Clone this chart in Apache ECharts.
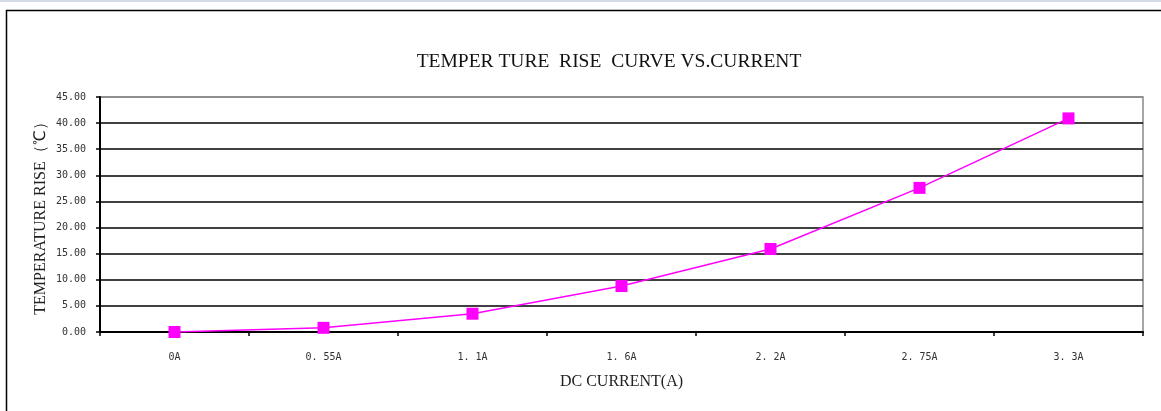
<!DOCTYPE html>
<html>
<head>
<meta charset="utf-8">
<script src="https://cdn.jsdelivr.net/npm/echarts@6/dist/echarts.min.js"></script>
<style>
  body { margin: 0; background: #fff; }
  #main { width: 1161px; height: 411px; }
</style>
</head>
<body>
<div id="main"></div>
<script>
// data
var categories = ['0A', '0.55A', '1.1A', '1.6A', '2.2A', '2.75A', '3.3A'];
var tempRise = [0, 0.8, 3.5, 8.8, 15.9, 27.6, 40.9];
var yMin = 0, yMax = 45, yStep = 5;

var chart = echarts.init(document.getElementById('main'));

// grid lines black, the top one grey like the frame
var splitColors = [];
for (var i = 0; i <= (yMax - yMin) / yStep; i++) splitColors.push('#000');
splitColors[splitColors.length - 1] = '#888';

chart.setOption({
  animation: false,
  backgroundColor: '#fff',
  title: {
    text: 'TEMPER TURE  RISE  CURVE VS.CURRENT',
    left: 604,
    top: 47,
    textAlign: 'center',
    textStyle: {
      fontFamily: 'Liberation Serif',
      fontWeight: 'normal',
      fontSize: 19.5,
      color: '#111'
    }
  },
  graphic: [
    { type: 'rect', shape: { x: 0, y: 0, width: 1161, height: 2 }, style: { fill: '#d4dcea' } },
    { type: 'rect', shape: { x: 6.5, y: 10.5, width: 1165, height: 410 }, style: { fill: 'none', stroke: '#000', lineWidth: 1.5 } }
  ],
  grid: {
    left: 100, top: 97, right: 18, bottom: 79,
    show: true,
    borderColor: '#888',
    borderWidth: 1.5
  },
  xAxis: {
    type: 'category',
    data: categories,
    boundaryGap: true,
    name: 'DC CURRENT(A)',
    nameLocation: 'middle',
    nameGap: 42,
    nameTextStyle: {
      fontFamily: 'Liberation Serif',
      fontSize: 16,
      color: '#222'
    },
    axisLine: { lineStyle: { color: '#000', width: 2 } },
    axisTick: { show: true, inside: false, length: 4, lineStyle: { color: '#000', width: 1.5 } },
    axisLabel: {
      margin: 20,
      fontFamily: 'DejaVu Sans Mono',
      fontSize: 10,
      color: '#333',
      formatter: function (v) { return v.replace('.', '. '); }
    }
  },
  yAxis: {
    type: 'value',
    min: yMin,
    max: yMax,
    interval: yStep,
    name: 'TEMPERATURE RISE（℃）',
    nameLocation: 'middle',
    nameGap: 51,
    nameRotate: 90,
    nameMoveOverlap: false,
    nameTextStyle: {
      fontFamily: 'Liberation Serif',
      fontSize: 16,
      color: '#222'
    },
    axisLine: { show: true, lineStyle: { color: '#000', width: 2 } },
    axisTick: { show: true, length: 4, lineStyle: { color: '#000', width: 1.5 } },
    axisLabel: {
      margin: 14,
      fontFamily: 'DejaVu Sans Mono',
      fontSize: 10,
      color: '#333',
      formatter: function (v) { return v.toFixed(2); }
    },
    splitLine: { show: true, lineStyle: { color: splitColors, width: 1.5 } }
  },
  series: [{
    type: 'line',
    data: tempRise,
    symbol: 'rect',
    symbolSize: 12,
    itemStyle: { color: '#ff00ff' },
    lineStyle: { color: '#ff00ff', width: 1.5 }
  }]
});
</script>
</body>
</html>
